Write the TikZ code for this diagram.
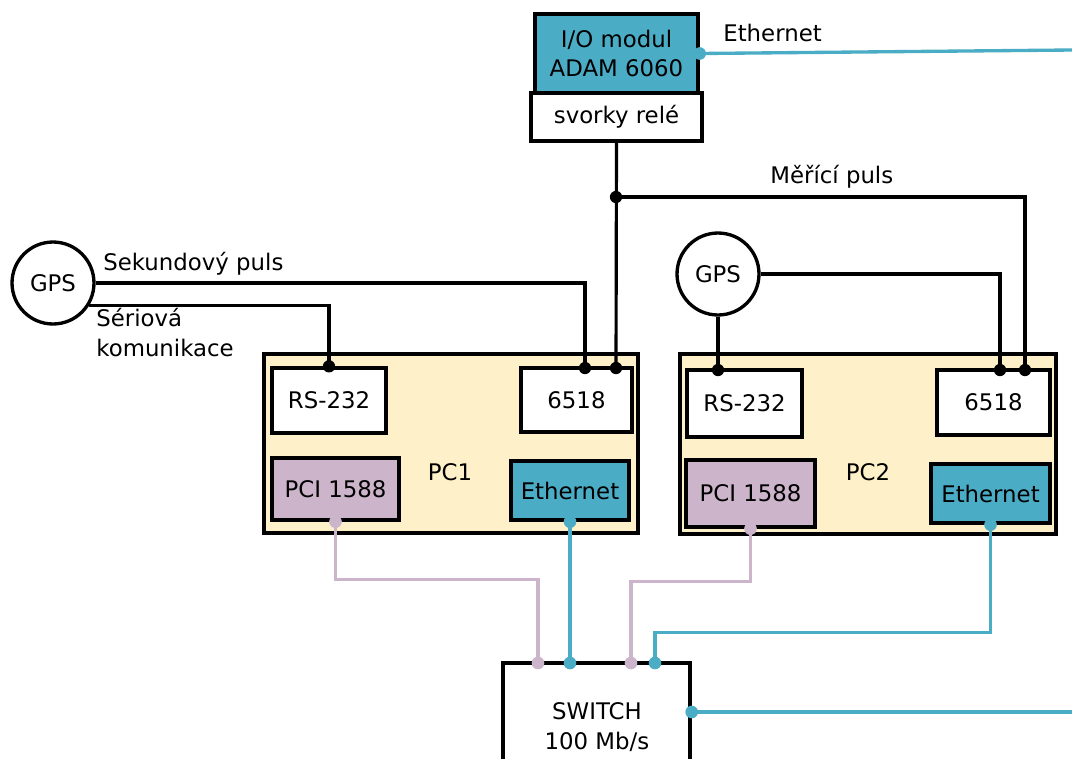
\documentclass[tikz,border=0pt]{standalone}
\usepackage{fontspec}
\setmainfont{DejaVu Sans}
\definecolor{netblue}{HTML}{4BACC6}
\definecolor{cardlilac}{HTML}{CCB4CB}
\definecolor{pccream}{HTML}{FEF0C8}
\tikzset{
  txt/.style={inner sep=0pt, font=\fontsize{13}{16}\selectfont},
  sz/.style 2 args={minimum width=#1*0.02cm, minimum height=#2*0.02cm},
  box/.style={txt, draw, line width=1.9pt, align=center},
  pcbox/.style={box, fill=pccream},
  whitebox/.style={box, fill=white},
  netbox/.style={box, fill=netblue},
  ptpbox/.style={box, fill=cardlilac},
  gps/.style={txt, draw, circle, line width=1.9pt, minimum size=1.64cm, fill=white},
  wire/.style={line width=1.8pt, black},
  netwire/.style={line width=1.9pt, netblue},
  ptpwire/.style={line width=1.9pt, cardlilac},
  lbl/.style={txt, anchor=base west, align=left},
}
\newcommand{\blackdot}[1]{\fill[black] (#1) circle (3.5pt);}
\newcommand{\colordot}[2]{\fill[#1] (#2) circle (3.6pt);}
\begin{document}
\begin{tikzpicture}[x=0.02cm, y=-0.02cm]
  \clip (0,0) rectangle (1072,758);
  \fill[white] (0,0) rectangle (1072,758);

  % I/O module with relay terminals
  \node[netbox, sz={163}{79}] (adam) at (616.5,53.5) {I/O modul\\ADAM 6060};
  \node[whitebox, sz={171}{48}] (relay) at (616.5,117) {svorky relé};

  % PC1
  \node[pcbox, sz={374}{179}] (pc1) at (451,443.5) {};
  \node[txt] (pc1lbl) at (450,472) {PC1};
  \node[whitebox, sz={114}{65}] (rs1) at (329,400.5) {RS-232};
  \node[whitebox, sz={111}{64}] (card1) at (576.5,400) {6518};
  \node[ptpbox, sz={127}{62}] (pci1) at (335.5,489) {PCI 1588};
  \node[netbox, sz={118}{59}] (eth1) at (570,490.5) {Ethernet};

  % PC2
  \node[pcbox, sz={376}{180}] (pc2) at (868,444) {};
  \node[txt] (pc2lbl) at (868,472) {PC2};
  \node[whitebox, sz={115}{67}] (rs2) at (744.5,403.5) {RS-232};
  \node[whitebox, sz={113}{65}] (card2) at (993.5,402.5) {6518};
  \node[ptpbox, sz={129}{67}] (pci2) at (750.5,493.5) {PCI 1588};
  \node[netbox, sz={119}{59}] (eth2) at (990.5,493.5) {Ethernet};

  % GPS receivers
  \node[gps] (gps1) at (53,283) {GPS};
  \node[gps] (gps2) at (718,274) {GPS};

  % switch
  \node[whitebox, sz={187}{137}] (switch) at (596.5,731.5) {};
  \node[txt, align=center] (swlbl) at (597,727) {SWITCH\\[1pt]100 Mb/s};

  % connection points
  \coordinate (c1a) at (585,368);
  \coordinate (c1b) at (616,368);
  \coordinate (c2a) at (1000,370);
  \coordinate (c2b) at (1025,370);
  \coordinate (junc) at (616,197);
  \coordinate (rs2in) at (718,370);
  \coordinate (sw1) at (538,663);
  \coordinate (sw2) at (570,663);
  \coordinate (sw3) at (631,663);
  \coordinate (sw4) at (655,663);
  \coordinate (netout1) at (1072,50);
  \coordinate (netout2) at (1072,712);
  \coordinate (swport) at (switch.east |- netout2);

  % timing signals
  \draw[wire] (gps1.east) -| (c1a);
  \draw[wire] (gps1.-32) -| (rs1.north);
  \draw[wire] (relay.south) -- (c1b);
  \draw[wire] (junc) -| (c2b);
  \draw[wire] (gps2.east) -| (c2a);
  \draw[wire] (gps2.south) -- (rs2in);
  \blackdot{c1a} \blackdot{c1b} \blackdot{c2a} \blackdot{c2b}
  \blackdot{junc} \blackdot{rs1.north} \blackdot{rs2in}

  % network links
  \draw[ptpwire] (pci1.south) -- ++(0,58) -| (sw1);
  \draw[netwire] (eth1.south) -- (sw2);
  \draw[ptpwire] (pci2.south) -- ++(0,53) -| (sw3);
  \draw[netwire] (eth2.south) -- ++(0,108) -| (sw4);
  \draw[netwire] (adam.east) -- (netout1);
  \draw[netwire] (swport) -- (netout2);
  \colordot{cardlilac}{pci1.south} \colordot{cardlilac}{pci2.south}
  \colordot{cardlilac}{sw1} \colordot{cardlilac}{sw3}
  \colordot{netblue}{eth1.south} \colordot{netblue}{eth2.south}
  \colordot{netblue}{sw2} \colordot{netblue}{sw4}
  \colordot{netblue}{adam.east} \colordot{netblue}{swport}

  % labels
  \node[lbl] (l1) at (723,41) {Ethernet};
  \node[lbl] (l2) at (770,183) {Měřící puls};
  \node[lbl] (l3) at (103,270) {Sekundový puls};
  \node[lbl] (l4) at (96,356) {Sériová\\[1pt]komunikace};
\end{tikzpicture}
\end{document}
